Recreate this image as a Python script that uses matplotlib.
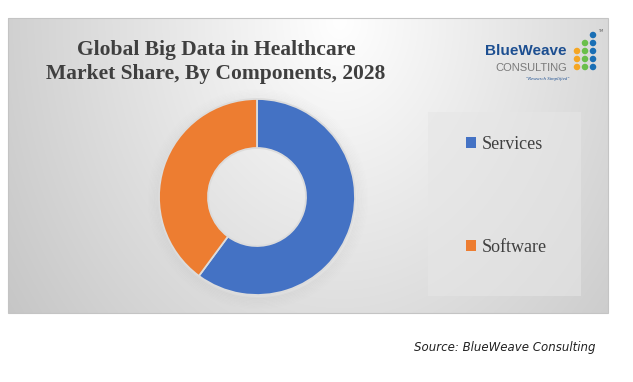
import numpy as np
import matplotlib
matplotlib.use("Agg")
import matplotlib.pyplot as plt
from matplotlib.patches import Rectangle, Circle

# data
components = ["Services", "Software"]
shares = [60.1, 39.9]
colors = ["#4472C4", "#ED7D31"]

W, H = 633, 382
fig = plt.figure(figsize=(W / 100, H / 100), dpi=100)
fig.patch.set_facecolor("white")

# background panel with soft radial gradient
bg = fig.add_axes([0, 0, 1, 1])
bg.set_xlim(0, W)
bg.set_ylim(H, 0)
bg.axis("off")
px0, px1, py0, py1 = 8, 608, 18, 313
xx, yy = np.meshgrid(np.linspace(px0, px1, 300), np.linspace(py0, py1, 150))
d = np.sqrt(((xx - 340) / 300) ** 2 + ((yy - 20) / 380) ** 2)
shade = np.clip(1.0 - 0.165 * d, 0.76, 1)
bg.imshow(np.dstack([shade] * 3), extent=[px0, px1, py1, py0], aspect="auto",
          interpolation="bilinear", zorder=0)
bg.add_patch(Rectangle((px0, py0), px1 - px0, py1 - py0, fill=False,
                       edgecolor="#c4c4c4", linewidth=0.8, zorder=1))
# legend area
bg.add_patch(Rectangle((428, 112), 153, 184, facecolor="#e6e6e6", alpha=0.6,
                       edgecolor="none", zorder=1))

# title
bg.text(216, 50, "Global Big Data in Healthcare", ha="center", va="center",
        fontsize=15.5, fontweight="bold", family="Liberation Serif", color="#3f3f3f")
bg.text(216, 74, "Market Share, By Components, 2028", ha="center", va="center",
        fontsize=15.5, fontweight="bold", family="Liberation Serif", color="#3f3f3f")

# logo
bg.text(567, 51, "BlueWeave", ha="right", va="center", fontsize=11,
        fontweight="bold", family="Liberation Sans", color="#1d4f91")
bg.text(567, 68, "CONSULTING", ha="right", va="center", fontsize=8,
        family="Liberation Sans", color="#7a7a7a")
bg.text(548, 79, '"Research Simplified"', ha="center", va="center", fontsize=3.5,
        style="italic", family="Liberation Serif", color="#1d4f91")
dot_x = [577, 585, 593]
dot_rows = [35, 43, 51, 59, 67]
dot_cols = [
    [None, None, "#1a6fb5"],
    [None, "#6abf4b", "#1a6fb5"],
    ["#f5a623", "#6abf4b", "#1a6fb5"],
    ["#f5a623", "#6abf4b", "#1a6fb5"],
    ["#f5a623", "#6abf4b", "#1a6fb5"],
]
for yv, row in zip(dot_rows, dot_cols):
    for xv, c in zip(dot_x, row):
        if c:
            bg.scatter(xv, yv, s=22, color=c, edgecolors="none", zorder=3)
bg.text(598, 31, "TM", fontsize=2.5, color="#555555", ha="left", va="center")

# source
fig.text(595 / W, 1 - 348 / H, "Source: BlueWeave Consulting", ha="right",
         va="center", fontsize=8.5, style="italic", family="DejaVu Sans", color="#222222")

# donut
cx, cy, r = 257, 197, 98
# soft shadow round the ring
for k in range(10):
    bg.add_patch(Circle((cx + 1, cy + 2), r + 1 + k * 1.3, facecolor="none",
                        edgecolor="black", linewidth=1.5, alpha=0.018 * (10 - k) / 10,
                        zorder=1))
ax = fig.add_axes([(cx - r) / W, 1 - (cy + r) / H, 2 * r / W, 2 * r / H])
ax.patch.set_alpha(0)
wedges, _ = ax.pie(shares, colors=colors, startangle=90, counterclock=False,
                   radius=1, wedgeprops=dict(width=0.5, edgecolor="#dcdcdc", linewidth=1.3))
ax.set_xlim(-1, 1)
ax.set_ylim(-1, 1)
ax.set_aspect("auto")

leg = fig.legend(wedges, components, loc="upper left",
                 bbox_to_anchor=(457 / W, 1 - 127 / H), frameon=False,
                 prop={"family": "Liberation Serif", "size": 13},
                 labelcolor="#404040", labelspacing=4.75, handlelength=0.55,
                 handleheight=0.55, handletextpad=0.3, borderpad=0)
for h in leg.legend_handles:
    h.set_edgecolor("none")

fig.savefig("out.png", dpi=100)
